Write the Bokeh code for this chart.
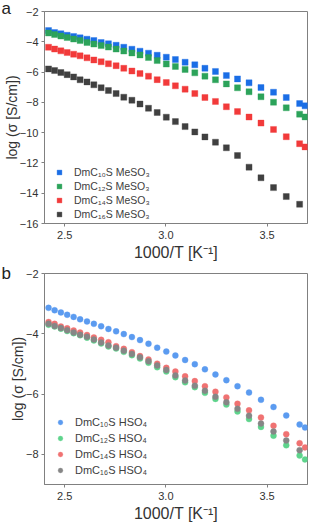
from bokeh.plotting import figure
from bokeh.layouts import column
from bokeh.models import (FixedTicker, PrintfTickFormatter, Legend, LegendItem,
                          Title, Range1d)
from bokeh.embed import file_html
from bokeh.resources import INLINE

# ---------------- data ----------------
inv_T = [2.420, 2.450, 2.481, 2.512, 2.544, 2.576, 2.610, 2.644, 2.680, 2.716,
         2.754, 2.792, 2.832, 2.872, 2.914, 2.957, 3.002, 3.047, 3.095, 3.143,
         3.193, 3.245, 3.299, 3.354, 3.411, 3.470, 3.532, 3.595, 3.661, 3.688]

# panel a : DmCnS MeSO3
a_c10 = [-3.26, -3.39, -3.47, -3.57, -3.65, -3.74, -3.83, -3.92, -4.05, -4.13,
         -4.23, -4.36, -4.49, -4.62, -4.75, -4.89, -5.02, -5.17, -5.35, -5.52,
         -5.75, -5.96, -6.23, -6.45, -6.71, -7.02, -7.33, -7.68, -8.08, -8.23]
a_c12 = [-3.42, -3.52, -3.62, -3.72, -3.82, -3.92, -4.05, -4.15, -4.25, -4.35,
         -4.48, -4.61, -4.74, -4.87, -5.04, -5.24, -5.47, -5.63, -5.83, -6.05,
         -6.27, -6.51, -6.78, -7.04, -7.30, -7.63, -7.99, -8.36, -8.78, -8.96]
a_c14 = [-4.36, -4.48, -4.60, -4.71, -4.82, -4.93, -5.06, -5.20, -5.32, -5.45,
         -5.58, -5.75, -5.93, -6.10, -6.27, -6.50, -6.69, -6.91, -7.13, -7.42,
         -7.68, -7.94, -8.29, -8.61, -8.97, -9.37, -9.79, -10.27, -10.73, -10.94]
a_c16 = [-5.79, -5.90, -6.03, -6.17, -6.32, -6.51, -6.65, -6.84, -7.03, -7.22,
         -7.42, -7.66, -7.86, -8.11, -8.39, -8.67, -8.98, -9.27, -9.60, -9.95,
         -10.28, -10.63, -11.00, -11.51, -12.28, -12.98, -13.63, -14.22, -14.73]

# panel b : DmCnS HSO4
b_c10 = [-3.14, -3.22, -3.29, -3.37, -3.44, -3.52, -3.59, -3.67, -3.75, -3.84,
         -3.92, -4.01, -4.11, -4.21, -4.33, -4.46, -4.59, -4.72, -4.87, -5.01,
         -5.18, -5.35, -5.54, -5.74, -5.95, -6.19, -6.43, -6.71, -7.01, -7.11]
b_c12 = [-3.70, -3.76, -3.83, -3.91, -3.98, -4.05, -4.13, -4.22, -4.32, -4.42,
         -4.49, -4.60, -4.71, -4.82, -4.96, -5.11, -5.25, -5.44, -5.61, -5.77,
         -5.96, -6.16, -6.35, -6.58, -6.83, -7.09, -7.38, -7.70, -8.04, -8.17]
b_c14 = [-3.61, -3.67, -3.76, -3.82, -3.89, -3.96, -4.04, -4.12, -4.20, -4.28,
         -4.41, -4.50, -4.61, -4.74, -4.85, -4.99, -5.13, -5.25, -5.41, -5.57,
         -5.74, -5.92, -6.11, -6.32, -6.54, -6.78, -7.05, -7.33, -7.63, -7.77]
b_c16 = [-3.67, -3.74, -3.81, -3.88, -3.96, -4.03, -4.10, -4.19, -4.29, -4.39,
         -4.46, -4.56, -4.67, -4.78, -4.91, -5.05, -5.20, -5.38, -5.55, -5.72,
         -5.89, -6.09, -6.27, -6.49, -6.72, -6.98, -7.24, -7.54, -7.86]

labels_a = ["DmC\u2081\u2080S MeSO\u2083", "DmC\u2081\u2082S MeSO\u2083",
            "DmC\u2081\u2084S MeSO\u2083", "DmC\u2081\u2086S MeSO\u2083"]
labels_b = ["DmC\u2081\u2080S HSO\u2084", "DmC\u2081\u2082S HSO\u2084",
            "DmC\u2081\u2084S HSO\u2084", "DmC\u2081\u2086S HSO\u2084"]
colors_a = ["#1a6ee6", "#2ca35a", "#f23a3a", "#404040"]
colors_b = ["#5b9bf0", "#5ed48c", "#f07272", "#868686"]

x_ticks = [2.5, 3.0, 3.5]
y_ticks_a = [-2, -4, -6, -8, -10, -12, -14, -16]
y_ticks_b = [-2, -4, -6, -8]
x_label = "1000/T [K\u207b\u00b9]"
y_label = "log (\u03c3 [S/cm])"

FONT = "Liberation Sans"
AX = "#808080"
TXT = "#333333"


def make_fig(height, top, bottom, y_lo, y_hi, y_ticks, xl_standoff, letter,
             letter_standoff):
    p = figure(width=309, height=height, x_range=Range1d(2.4, 3.7),
               y_range=Range1d(y_lo, y_hi), output_backend="svg",
               toolbar_location=None, min_border_left=43, min_border_right=2,
               min_border_top=top, min_border_bottom=bottom)
    p.grid.visible = False
    p.outline_line_color = AX
    p.outline_line_width = 1
    for ax in (p.xaxis[0], p.yaxis[0]):
        ax.axis_line_color = AX
        ax.major_tick_line_color = AX
        ax.minor_tick_line_color = None
        ax.major_tick_out = 3
        ax.major_tick_in = 0
        ax.major_label_standoff = 3
        ax.major_label_text_font = FONT
        ax.major_label_text_font_size = "11px"
        ax.major_label_text_color = TXT
        ax.axis_label_text_font = FONT
        ax.axis_label_text_font_style = "normal"
        ax.axis_label_text_color = TXT
    p.xaxis.ticker = FixedTicker(ticks=x_ticks)
    p.xaxis.formatter = PrintfTickFormatter(format="%.1f")
    p.xaxis.major_label_standoff = 4
    p.yaxis.ticker = FixedTicker(ticks=y_ticks)
    p.xaxis.axis_label = x_label
    p.xaxis.axis_label_text_font_size = "16px"
    p.xaxis.axis_label_standoff = xl_standoff
    p.yaxis.axis_label = y_label
    p.yaxis.axis_label_text_font_size = "14px"
    p.yaxis.axis_label_standoff = -3
    # panel letter ("a" / "b") as a left-aligned title above the frame
    p.add_layout(Title(text=letter, align="left", offset=-43,
                       vertical_align="bottom", standoff=letter_standoff,
                       text_font=FONT, text_font_size="17px",
                       text_font_style="normal", text_color="#222222"),
                 "above")
    return p


def add_legend(p, items, vx, vy, row_h, standoff, fsize):
    leg = Legend(items=items, location=(vx, vy), orientation="vertical",
                 glyph_width=12, glyph_height=row_h, label_height=row_h,
                 spacing=0, padding=0, margin=0, label_standoff=standoff,
                 border_line_color=None, background_fill_alpha=0,
                 label_text_font=FONT, label_text_font_size=fsize,
                 label_text_color="#404040")
    p.add_layout(leg, "center")


# ---------------- panel a ----------------
# canvas 0..263, frame 11..223
pa = make_fig(263, 11, 40, -16, -2, y_ticks_a, 2, "a", -12)
items = []
for ys, col, lab in zip([a_c10, a_c12, a_c14, a_c16], colors_a, labels_a):
    r = pa.scatter(inv_T[:len(ys)], ys, marker="square", size=6,
                   fill_color=col, line_color=col, line_alpha=0.35,
                   line_width=1)
    items.append(LegendItem(label=lab, renderers=[r]))
add_legend(pa, items, 9, 2, 14, 9, "10.5px")

# ---------------- panel b ----------------
# canvas 263..524, frame 273..484
pb = make_fig(261, 10, 40, -9, -2, y_ticks_b, 2, "b", -18)
items = []
for ys, col, lab in zip([b_c10, b_c12, b_c14, b_c16], colors_b, labels_b):
    r = pb.scatter(inv_T[:len(ys)], ys, marker="circle", size=6,
                   fill_color=col, line_color=col, line_alpha=0.35,
                   line_width=1)
    items.append(LegendItem(label=lab, renderers=[r]))
add_legend(pb, items, 10, 6, 16, 9, "11px")

layout = column(pa, pb, spacing=0)
open("out.html", "w").write(file_html(layout, INLINE))
